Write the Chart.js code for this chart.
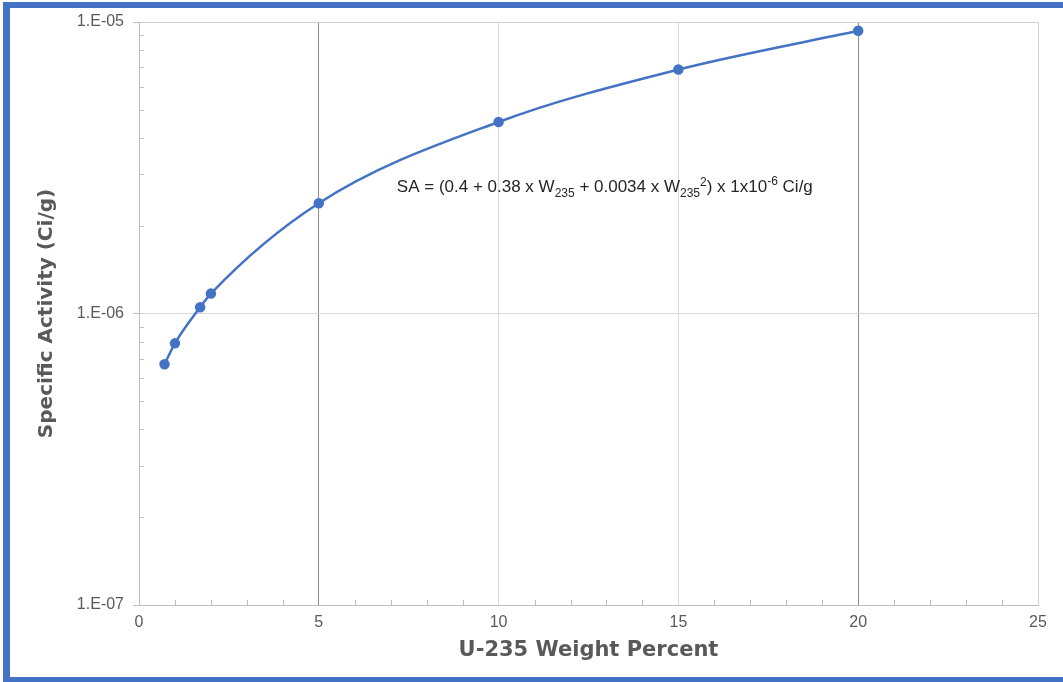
<!doctype html>
<html>
<head>
<title>Specific Activity vs U-235 Weight Percent</title>
<style>
  html, body { margin: 0; padding: 0; background: #fff; }
  #wrap { position: relative; width: 1063px; height: 682px; overflow: hidden; }
  #frame {
    position: absolute; left: 3px; top: 2px; width: 1060px; height: 680px;
    box-sizing: border-box; pointer-events: none;
    border-left: 7px solid #4472c4; border-top: 6px solid #4472c4; border-bottom: 5px solid #4472c4;
  }
  canvas { position: absolute; left: 0; top: 0; }
</style>
</head>
<body>
<div id="wrap">
  <canvas id="saChart" width="1063" height="682"></canvas>
  <div id="frame"></div>
</div>

<script src="https://cdn.jsdelivr.net/npm/chart.js"></script>
<script>
// values
var weightPct = [0.71, 1.0, 1.7, 2.0, 5, 10, 15, 20];
var activity = [0.67e-6, 0.79e-6, 1.05e-6, 1.17e-6, 2.39e-6, 4.54e-6, 6.87e-6, 9.33e-6];

var yDecades = [1e-7, 1e-6, 1e-5];
var yTickLabels = ["1.E-07", "1.E-06", "1.E-05"];
var xMin = 0, xMax = 25, xStep = 5;

// minor tick positions (2..9 per decade, every integer on x)
var yMinor = [];
for (var d = 0; d < yDecades.length - 1; d++) {
  for (var k = 2; k <= 9; k++) yMinor.push(k * yDecades[d]);
}
var xMinor = [];
for (var i = xMin + 1; i < xMax; i++) {
  if (i % xStep !== 0) xMinor.push(i);
}

var points = weightPct.map(function (w, i) {
  return { x: w, y: activity[i] };
});

var labelFont = "'Liberation Sans', Arial, sans-serif";
var titleFont = "'DejaVu Sans', sans-serif";

// inside minor ticks + the equation text
var extras = {
  id: "extras",
  afterDraw: function (chart) {
    var ctx = chart.ctx;
    var xs = chart.scales.x, ys = chart.scales.y, area = chart.chartArea;
    ctx.save();
    ctx.strokeStyle = "#bfbfbf";
    ctx.lineWidth = 1;
    ctx.beginPath();
    yMinor.forEach(function (v) {
      var py = Math.round(ys.getPixelForValue(v)) + 0.5;
      ctx.moveTo(area.left, py);
      ctx.lineTo(area.left + 5, py);
    });
    xMinor.forEach(function (v) {
      var px = Math.round(xs.getPixelForValue(v)) + 0.5;
      ctx.moveTo(px, area.bottom);
      ctx.lineTo(px, area.bottom - 5);
    });
    ctx.stroke();

    // SA = (0.4 + 0.38 x W235 + 0.0034 x W235^2) x 1x10^-6 Ci/g
    var parts = [
      ["SA = (0.4 + 0.38 x W", 17, 0],
      ["235", 12, 5],
      [" + 0.0034 x W", 17, 0],
      ["235", 12, 5],
      ["2", 12, -6],
      [") x 1x10", 17, 0],
      ["-6", 12, -7],
      [" Ci/g", 17, 0]
    ];
    var px = xs.getPixelForValue(7.17);
    var base = ys.getPixelForValue(2.73e-6) + 6;
    ctx.fillStyle = "#262626";
    ctx.textBaseline = "alphabetic";
    parts.forEach(function (p) {
      ctx.font = p[1] + "px " + labelFont;
      ctx.fillText(p[0], px, base + p[2]);
      px += ctx.measureText(p[0]).width;
    });
    ctx.restore();
  }
};

var ctx = document.getElementById("saChart").getContext("2d");
var chart = new Chart(ctx, {
  type: "line",
  data: {
    datasets: [
      {
        label: "Specific Activity",
        data: points,
        borderColor: "#4472c4",
        backgroundColor: "#4472c4",
        borderWidth: 2.5,
        pointRadius: 4,
        pointHoverRadius: 4,
        cubicInterpolationMode: "monotone",
        fill: false
      }
    ]
  },
  options: {
    responsive: false,
    animation: false,
    layout: { padding: { top: 22, right: 25, left: 0, bottom: 0 } },
    plugins: {
      legend: { display: false },
      tooltip: { enabled: false }
    },
    scales: {
      x: {
        type: "linear",
        min: xMin,
        max: xMax,
        afterFit: function (scale) { scale.height = 77; },
        ticks: {
          stepSize: xStep,
          maxRotation: 0,
          padding: 8,
          color: "#595959",
          font: { family: labelFont, size: 16 }
        },
        grid: {
          drawTicks: false,
          color: function (c) {
            if (!c.tick) return "transparent";
            var v = c.tick.value;
            if (v === 5 || v === 20) return "#8c8c8c";
            if (v === 10 || v === 15) return "#d9d9d9";
            if (v === 25) return "#d0d0d0";
            return "transparent";
          }
        },
        border: { color: "#bfbfbf" },
        title: {
          display: true,
          text: "U-235 Weight Percent",
          color: "#595959",
          font: { family: titleFont, size: 21, weight: "bold" },
          padding: { top: 0, bottom: 19 }
        }
      },
      y: {
        type: "logarithmic",
        min: yDecades[0],
        max: yDecades[yDecades.length - 1],
        afterFit: function (scale) { scale.width = 139; },
        afterBuildTicks: function (scale) {
          var all = yDecades.concat(yMinor).sort(function (a, b) { return a - b; });
          scale.ticks = all.map(function (v) { return { value: v }; });
        },
        ticks: {
          autoSkip: false,
          padding: 9,
          color: "#595959",
          font: { family: labelFont, size: 16 },
          callback: function (value) {
            var idx = yDecades.indexOf(value);
            return idx >= 0 ? yTickLabels[idx] : "";
          }
        },
        grid: {
          tickLength: 6,
          color: function (c) {
            if (!c.tick) return "transparent";
            if (c.tick.value === yDecades[1]) return "#d9d9d9";
            if (c.tick.value === yDecades[2]) return "#d0d0d0";
            return "transparent";
          },
          tickColor: function (c) {
            if (!c.tick) return "transparent";
            return yDecades.indexOf(c.tick.value) >= 0 ? "#bfbfbf" : "transparent";
          }
        },
        border: { color: "#bfbfbf" },
        title: {
          display: true,
          text: "Specific Activity (Ci/g)",
          color: "#595959",
          font: { family: titleFont, size: 20, weight: "bold" },
          padding: { top: 35, bottom: 0 }
        }
      }
    }
  },
  plugins: [extras]
});
</script>
</body>
</html>
